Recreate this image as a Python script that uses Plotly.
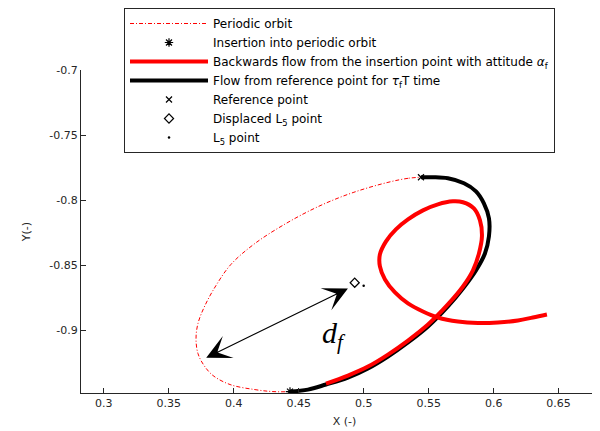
import plotly.graph_objects as go

# Periodic orbit (closed)
orbit_x = [0.5441, 0.5341, 0.5187, 0.4925, 0.4672, 0.4418, 0.4164, 0.3979, 0.3864, 0.3779,
           0.3725, 0.3710, 0.3725, 0.3772, 0.3841, 0.3972, 0.4164, 0.4302, 0.4433,
           0.4571, 0.4710, 0.4879, 0.5033, 0.5187, 0.5341, 0.5495, 0.5648, 0.5764, 0.5864,
           0.5933, 0.5964, 0.5964, 0.5925, 0.5864, 0.5772, 0.5648, 0.5533, 0.5441]
orbit_y = [-0.7823, -0.7831, -0.7862, -0.7938, -0.8038, -0.8169, -0.8331, -0.8492, -0.8654, -0.8808,
           -0.8946, -0.9062, -0.9177, -0.9269, -0.9346, -0.9415, -0.9454, -0.9469, -0.9469,
           -0.9454, -0.9415, -0.9362, -0.9292, -0.9200, -0.9092, -0.8969, -0.8815, -0.8677, -0.8538,
           -0.8408, -0.8277, -0.8138, -0.8023, -0.7931, -0.7869, -0.7831, -0.7823, -0.7823]

# Flow from reference point for tau_f T time (black)
flow_x = [0.5441, 0.5533, 0.5648, 0.5772, 0.5864, 0.5925, 0.5964, 0.5964, 0.5933, 0.5864,
          0.5764, 0.5648, 0.5495, 0.5341, 0.5187, 0.5033, 0.4879, 0.4710, 0.4571, 0.4433]
flow_y = [-0.7823, -0.7823, -0.7831, -0.7869, -0.7931, -0.8023, -0.8138, -0.8277, -0.8408, -0.8538,
          -0.8677, -0.8815, -0.8969, -0.9092, -0.9200, -0.9292, -0.9362, -0.9415, -0.9454, -0.9469]

# Backwards flow from the insertion point (red)
back_x = [0.4710, 0.4879, 0.5033, 0.5187, 0.5341, 0.5495, 0.5648, 0.5764, 0.5841, 0.5887,
          0.5910, 0.5895, 0.5848, 0.5764, 0.5687, 0.5571, 0.5456, 0.5341, 0.5248, 0.5172,
          0.5125, 0.5125, 0.5164, 0.5241, 0.5341, 0.5456, 0.5571, 0.5725, 0.5879, 0.6033,
          0.6187, 0.6302, 0.6410]
back_y = [-0.9408, -0.9346, -0.9277, -0.9185, -0.9077, -0.8954, -0.8800, -0.8662, -0.8538, -0.8408,
          -0.8277, -0.8154, -0.8062, -0.8015, -0.8008, -0.8031, -0.8077, -0.8146, -0.8223, -0.8315,
          -0.8415, -0.8508, -0.8608, -0.8708, -0.8792, -0.8854, -0.8900, -0.8931, -0.8942, -0.8938,
          -0.8923, -0.8900, -0.8877]

insertion_pt = (0.4433, -0.9469)
reference_pt = (0.5441, -0.7823)
displaced_l5 = (0.4931, -0.8633)
l5_pt = (0.5000, -0.8656)

# d_f arrow end points and label position
arrow_a = (0.4879, -0.8677)
arrow_b = (0.3777, -0.9215)
label_pos = (0.4770, -0.9035)

x_ticks = [0.3, 0.35, 0.4, 0.45, 0.5, 0.55, 0.6, 0.65]
x_ticktext = ["0.3", "0.35", "0.4", "0.45", "0.5", "0.55", "0.6", "0.65"]
y_ticks = [-0.9, -0.85, -0.8, -0.75, -0.7]
y_ticktext = ["-0.9", "-0.85", "-0.8", "-0.75", "-0.7"]

AX = "#262626"
FONT = "DejaVu Sans"

fig = go.Figure()

fig.add_trace(go.Scatter(x=orbit_x, y=orbit_y, mode="lines", name="Periodic orbit",
                         line=dict(color="red", width=1, dash="4px,2px,1px,2px", shape="spline"),
                         legendrank=1))
fig.add_trace(go.Scatter(x=flow_x, y=flow_y, mode="lines",
                         name="Flow from reference point for <i>τ</i><sub>f</sub>T time",
                         line=dict(color="black", width=4, shape="spline"), legendrank=4))
fig.add_trace(go.Scatter(x=back_x, y=back_y, mode="lines",
                         name="Backwards flow from the insertion point with attitude <i>α</i><sub>f</sub>",
                         line=dict(color="red", width=4, shape="spline"), legendrank=3))
fig.add_trace(go.Scatter(x=[insertion_pt[0]], y=[insertion_pt[1]], mode="markers",
                         name="Insertion into periodic orbit",
                         marker=dict(symbol="asterisk-open", size=7, color="black",
                                     line=dict(color="black", width=1.2)), legendrank=2))
fig.add_trace(go.Scatter(x=[reference_pt[0]], y=[reference_pt[1]], mode="markers",
                         name="Reference point",
                         marker=dict(symbol="x-thin-open", size=6, color="black",
                                     line=dict(color="black", width=1.2)), legendrank=5))
fig.add_trace(go.Scatter(x=[displaced_l5[0]], y=[displaced_l5[1]], mode="markers",
                         name="Displaced L<sub>5</sub> point",
                         marker=dict(symbol="diamond-open", size=7, color="black",
                                     line=dict(color="black", width=1.2)), legendrank=6))
fig.add_trace(go.Scatter(x=[l5_pt[0]], y=[l5_pt[1]], mode="markers",
                         name="L<sub>5</sub> point",
                         marker=dict(symbol="circle", size=2.5, color="black"), legendrank=7))

fig.add_annotation(x=arrow_a[0], y=arrow_a[1], ax=arrow_b[0], ay=arrow_b[1],
                   xref="x", yref="y", axref="x", ayref="y", text="", showarrow=True,
                   arrowside="end+start", arrowhead=3, startarrowhead=3,
                   arrowsize=3.4, startarrowsize=3.4, arrowwidth=1.2, arrowcolor="black",
                   standoff=0, startstandoff=0)
fig.add_annotation(x=label_pos[0], y=label_pos[1], xref="x", yref="y",
                   text="<i>d</i><sub><i>f</i></sub>", showarrow=False,
                   font=dict(family="Liberation Serif", size=30, color="black"))

fig.update_xaxes(range=[0.2825, 0.688], tickvals=x_ticks, ticktext=x_ticktext,
                 ticks="inside", ticklen=5, tickcolor=AX, showline=True, linecolor=AX, linewidth=1,
                 showgrid=False, zeroline=False, mirror=False,
                 tickfont=dict(family=FONT, size=11, color=AX),
                 title=dict(text="X (-)", font=dict(family=FONT, size=11, color=AX), standoff=8))
fig.update_yaxes(range=[-0.948, -0.6999], tickvals=y_ticks, ticktext=y_ticktext,
                 ticks="inside", ticklen=5, tickcolor=AX, showline=True, linecolor=AX, linewidth=1,
                 showgrid=False, zeroline=False, mirror=False,
                 tickfont=dict(family=FONT, size=11, color=AX),
                 title=dict(text="Y(-)", font=dict(family=FONT, size=11, color=AX), standoff=16))

fig.update_layout(
    width=600, height=431,
    margin=dict(l=73, r=0, t=62, b=46),
    paper_bgcolor="white", plot_bgcolor="white",
    showlegend=True,
    legend=dict(x=(116 - 73) / 527, y=(385 - 0) / 323, xanchor="left", yanchor="top",
                bgcolor="white", bordercolor=AX, borderwidth=1,
                font=dict(family=FONT, size=12, color="black"),
                itemwidth=78, tracegroupgap=0),
)

fig.write_html("out.html")
